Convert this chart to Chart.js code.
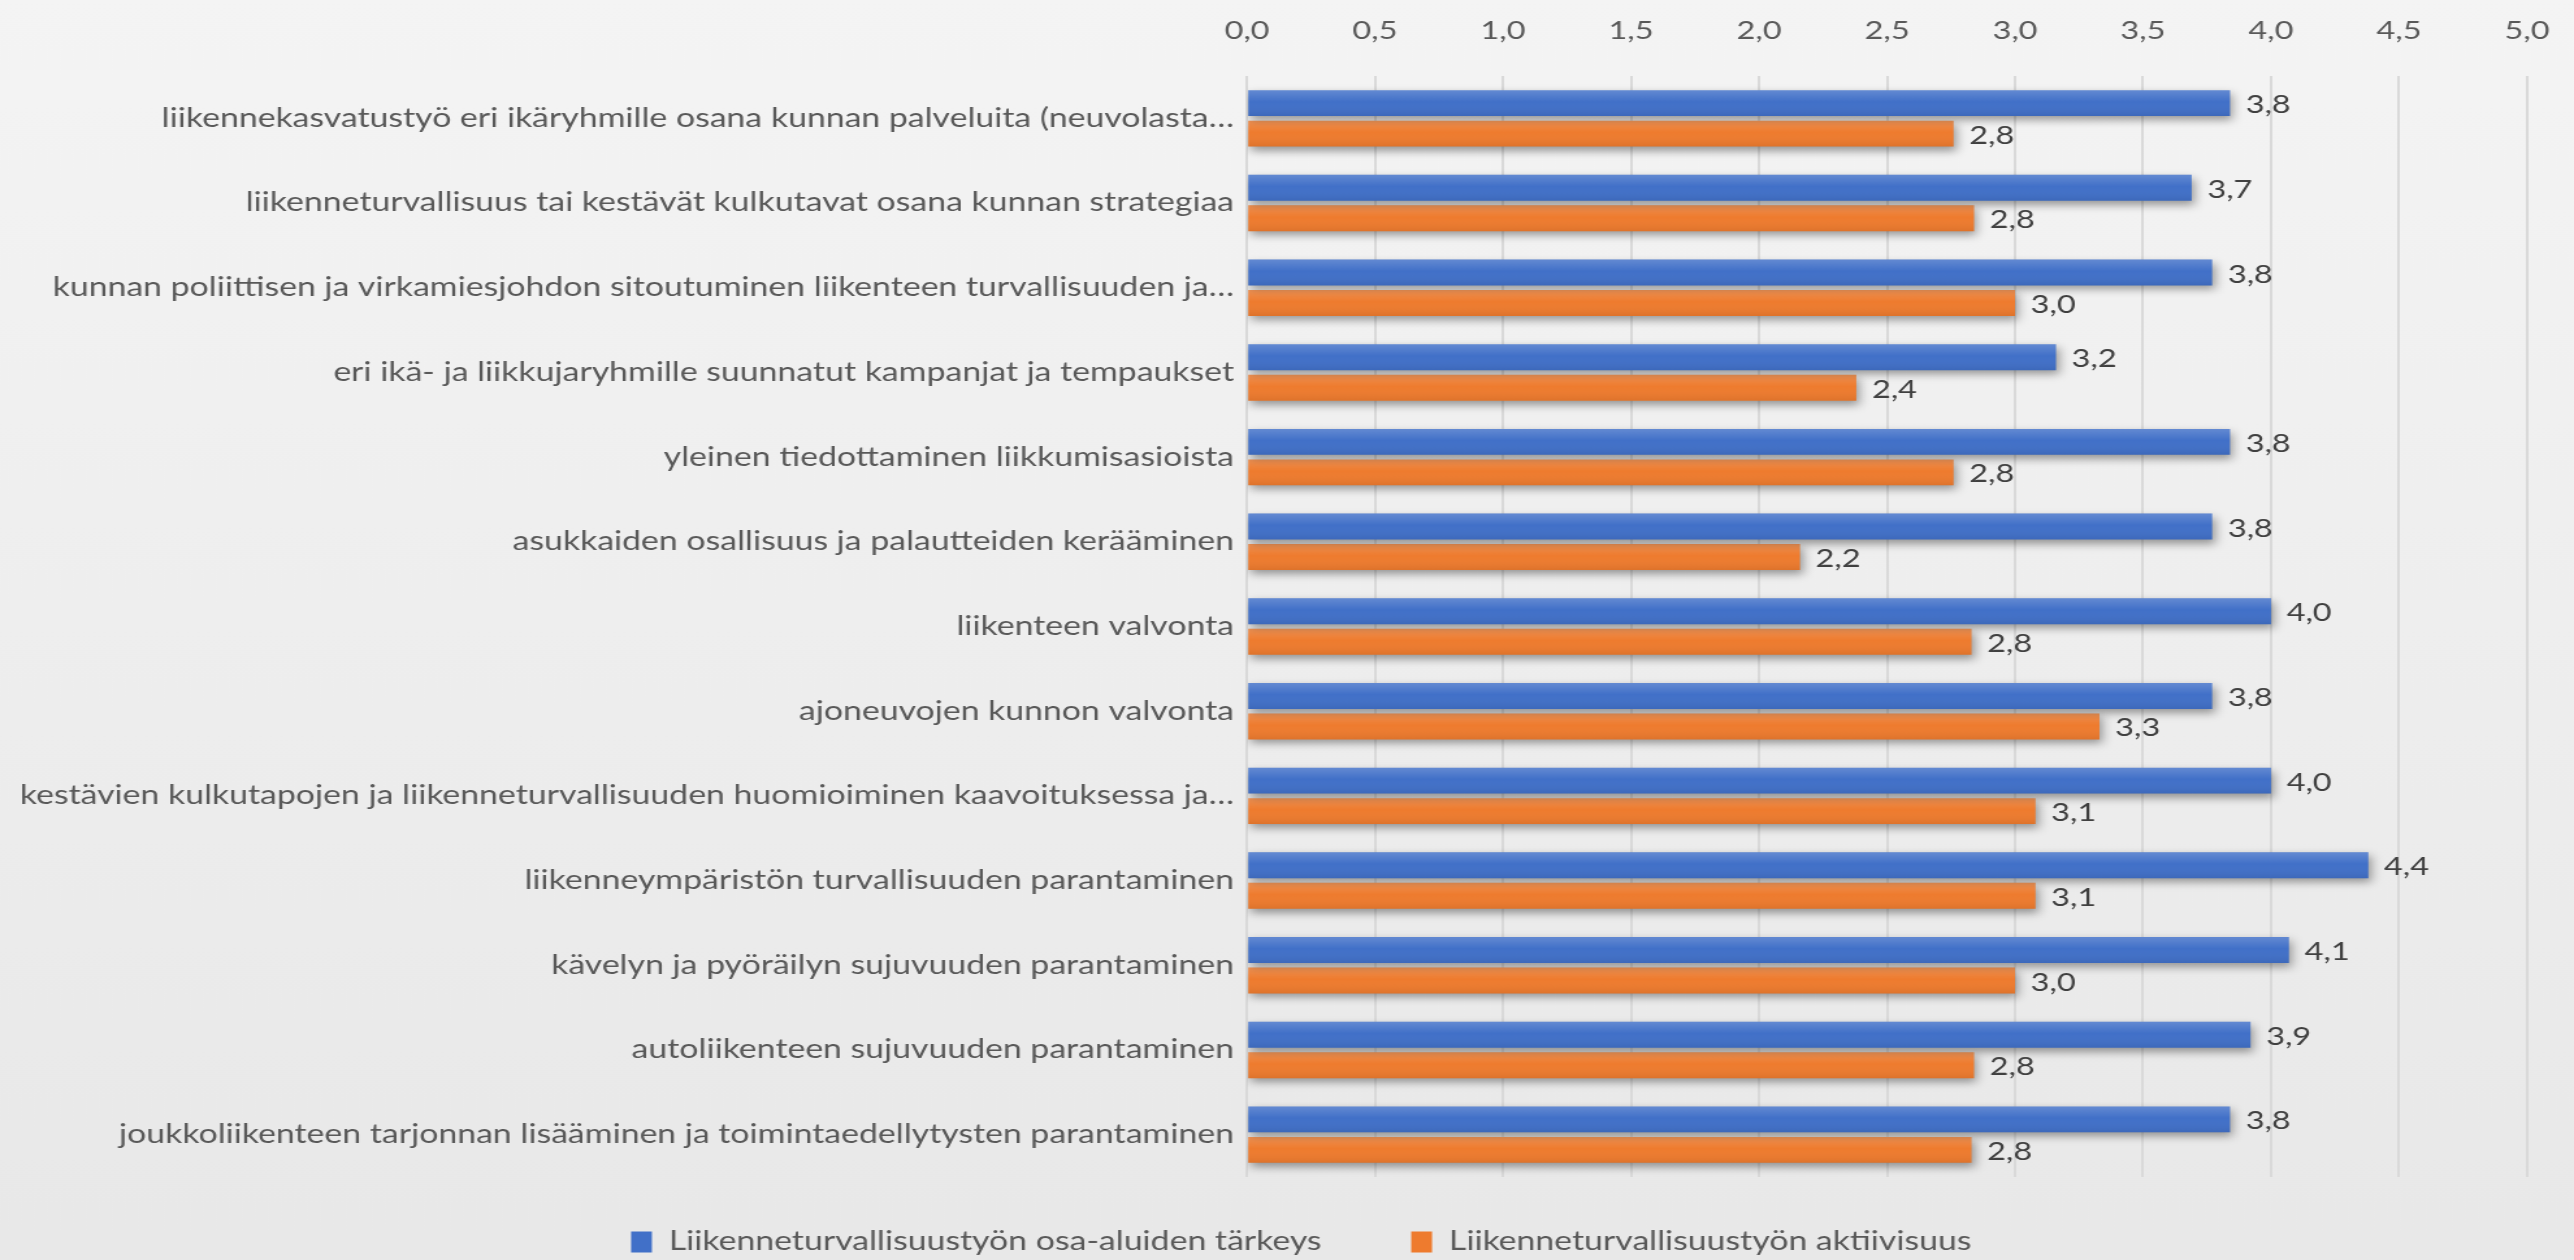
<!DOCTYPE html>
<html>
<head>
<meta charset="utf-8">
<script src="https://cdn.jsdelivr.net/npm/chart.js@4.4.1/dist/chart.umd.min.js"></script>
<style>
  html, body { margin: 0; padding: 0; overflow: hidden; background: #eeeeee; }
  /* the original chart is stretched sideways, so draw narrow and widen */
  #wrap { width: 1980px; height: 1260px; transform: scaleX(1.3); transform-origin: 0 0; }
</style>
</head>
<body>
<div id="wrap"><canvas id="chart"></canvas></div>
<script>
const STRETCH = 1.3;

const categories = [
  "liikennekasvatustyö eri ikäryhmille osana kunnan palveluita (neuvolasta…",
  "liikenneturvallisuus tai kestävät kulkutavat osana kunnan strategiaa",
  "kunnan poliittisen ja virkamiesjohdon sitoutuminen liikenteen turvallisuuden ja…",
  "eri ikä- ja liikkujaryhmille suunnatut kampanjat ja tempaukset",
  "yleinen tiedottaminen liikkumisasioista",
  "asukkaiden osallisuus ja palautteiden kerääminen",
  "liikenteen valvonta",
  "ajoneuvojen kunnon valvonta",
  "kestävien kulkutapojen ja liikenneturvallisuuden huomioiminen kaavoituksessa ja…",
  "liikenneympäristön turvallisuuden parantaminen",
  "kävelyn ja pyöräilyn sujuvuuden parantaminen",
  "autoliikenteen sujuvuuden parantaminen",
  "joukkoliikenteen tarjonnan lisääminen ja toimintaedellytysten parantaminen"
];

// Liikenneturvallisuustyön osa-alueiden tärkeys
const importance = [3.84, 3.69, 3.77, 3.16, 3.84, 3.77, 4.00, 3.77, 4.00, 4.38, 4.07, 3.92, 3.84];
// Liikenneturvallisuustyön aktiivisuus
const activity = [2.76, 2.84, 3.00, 2.38, 2.76, 2.16, 2.83, 3.33, 3.08, 3.08, 3.00, 2.84, 2.83];

const seriesNames = [
  "Liikenneturvallisuustyön osa-aluiden tärkeys",
  "Liikenneturvallisuustyön aktiivisuus"
];

const xTickValues = [0, 0.5, 1, 1.5, 2, 2.5, 3, 3.5, 4, 4.5, 5];

const fmt = v => v.toFixed(1).replace(".", ",");

const W = 1980;
const PLOT_LEFT = 1247 / STRETCH;
const PLOT_RIGHT = 2527 / STRETCH;
const PLOT_TOP = 76;
const PLOT_BOTTOM = 1177;

const canvas = document.getElementById("chart");
canvas.width = W;
canvas.height = 1260;

// background, bar shadows, bar shading and value labels
const decor = {
  id: "decor",
  afterInit(chart) {
    const lg = chart.legend;
    const fit = lg.fit.bind(lg);
    lg.fit = function () { fit(); this.height = 1260 - PLOT_BOTTOM; };
  },
  afterLayout(chart) {
    // legend padding is wide for the item gap, pull its row back up
    // and undo the trailing gap so the items sit centred
    chart.legend.top -= 17;
    chart.legend.left += 58;
  },
  beforeDraw(chart) {
    const ctx = chart.ctx;
    const g = ctx.createLinearGradient(0, 0, 0, chart.height);
    g.addColorStop(0, "#f4f4f4");
    g.addColorStop(1, "#e8e8e8");
    ctx.save();
    ctx.fillStyle = g;
    ctx.fillRect(0, 0, chart.width, chart.height);
    ctx.restore();
  },
  beforeDatasetsDraw(chart) {
    const ctx = chart.ctx;
    ctx.save();
    ctx.shadowColor = "rgba(0,0,0,0.38)";
    ctx.shadowBlur = 8;
    ctx.shadowOffsetX = 2;
    ctx.shadowOffsetY = 4;
  },
  afterDatasetsDraw(chart) {
    const ctx = chart.ctx;
    ctx.restore();
    ctx.save();
    chart.data.datasets.forEach((ds, i) => {
      const meta = chart.getDatasetMeta(i);
      meta.data.forEach((el, j) => {
        const left = Math.min(el.base, el.x);
        const w = Math.abs(el.x - el.base);
        const top = el.y - el.height / 2;
        const g = ctx.createLinearGradient(0, top, 0, top + el.height);
        g.addColorStop(0, "rgba(255,255,255,0.18)");
        g.addColorStop(0.45, "rgba(255,255,255,0)");
        g.addColorStop(1, "rgba(0,0,0,0.07)");
        ctx.fillStyle = g;
        ctx.fillRect(left, top, w, el.height);

        ctx.fillStyle = "#404040";
        ctx.font = "25px Lato";
        ctx.textAlign = "left";
        ctx.textBaseline = "middle";
        ctx.fillText(fmt(ds.data[j]), el.x + 12, el.y + 2);
      });
    });
    ctx.restore();
  }
};

new Chart(canvas, {
  type: "bar",
  data: {
    labels: categories,
    datasets: [
      {
        label: seriesNames[0],
        data: importance,
        backgroundColor: "#4170c8",
        categoryPercentage: 0.72,
        barPercentage: 0.85
      },
      {
        label: seriesNames[1],
        data: activity,
        backgroundColor: "#ee7b2e",
        categoryPercentage: 0.72,
        barPercentage: 0.85
      }
    ]
  },
  options: {
    indexAxis: "y",
    responsive: false,
    animation: false,
    devicePixelRatio: 1,
    layout: { padding: { left: 0, right: W - PLOT_RIGHT, top: 0, bottom: 0 } },
    scales: {
      x: {
        position: "top",
        min: xTickValues[0],
        max: xTickValues[xTickValues.length - 1],
        afterBuildTicks(scale) {
          scale.ticks = xTickValues.map(v => ({ value: v }));
        },
        afterFit(scale) {
          scale.height = PLOT_TOP;
          scale.paddingLeft = 0;
          scale.paddingRight = 0;
        },
        grid: { color: "#d9d9d9", lineWidth: 2, drawTicks: false },
        border: { display: false },
        ticks: {
          padding: 30,
          color: "#595959",
          font: { family: "Lato", size: 25 },
          callback: v => fmt(v)
        }
      },
      y: {
        afterFit(scale) { scale.width = PLOT_LEFT; },
        grid: { display: false, drawTicks: false },
        border: { display: false },
        ticks: {
          padding: 10,
          color: "#595959",
          font: { family: "Lato", size: 26 },
          autoSkip: false
        }
      }
    },
    plugins: {
      legend: {
        position: "bottom",
        labels: {
          boxWidth: 16,
          boxHeight: 21,
          padding: 69,
          color: "#595959",
          font: { family: "Lato", size: 26 }
        }
      },
      tooltip: { enabled: false }
    }
  },
  plugins: [decor]
});
</script>
</body>
</html>
